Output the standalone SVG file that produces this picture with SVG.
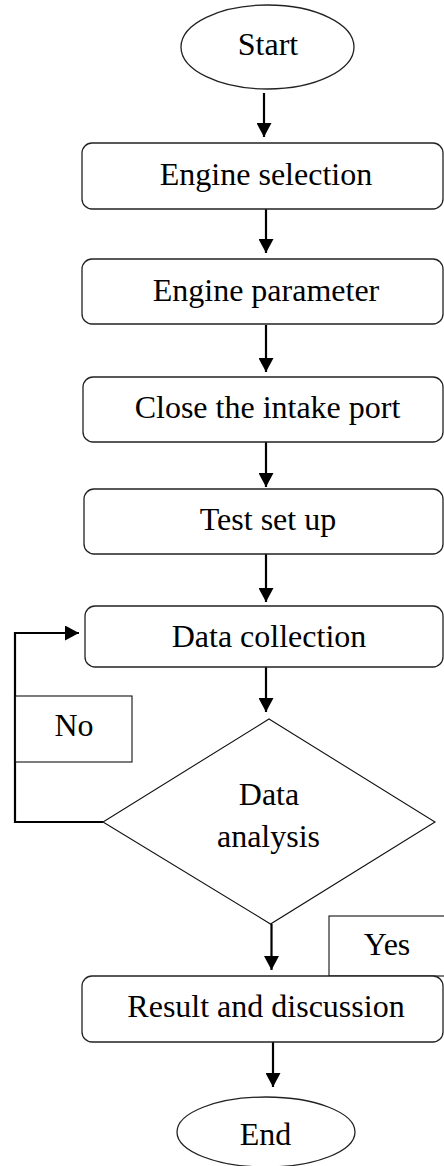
<svg xmlns="http://www.w3.org/2000/svg" width="444" height="1166" viewBox="0 0 444 1166">
  <style>
    .shape { fill: #fff; stroke: #222; stroke-width: 1.3; }
    .thin { fill: #fff; stroke: #111; stroke-width: 1.1; }
    .label { font-family: "Liberation Serif", "Times New Roman", serif; font-size: 32px; fill: #000; text-anchor: middle; }
    .flow { fill: none; stroke: #000; stroke-width: 2.2; }
  </style>
  <defs>
    <marker id="head" viewBox="0 0 14 15" refX="14" refY="7.5" markerWidth="14" markerHeight="15" markerUnits="userSpaceOnUse" orient="auto">
      <path d="M0,0 L14,7.5 L0,15 Z" fill="#000"/>
    </marker>
  </defs>

  <!-- connectors -->
  <g id="connectors">
    <line class="flow" x1="264" y1="93" x2="264" y2="137" marker-end="url(#head)"/>
    <line class="flow" x1="266" y1="209" x2="266" y2="253" marker-end="url(#head)"/>
    <line class="flow" x1="266" y1="325" x2="266" y2="372" marker-end="url(#head)"/>
    <line class="flow" x1="266" y1="442" x2="266" y2="487" marker-end="url(#head)"/>
    <line class="flow" x1="266" y1="554" x2="266" y2="602" marker-end="url(#head)"/>
    <line class="flow" x1="266" y1="667" x2="266" y2="712" marker-end="url(#head)"/>
    <line class="flow" x1="271.5" y1="924" x2="271.5" y2="970" marker-end="url(#head)"/>
    <line class="flow" x1="273" y1="1042" x2="273" y2="1087" marker-end="url(#head)"/>
    <!-- "No" loop back to data collection -->
    <polyline class="flow" points="103,822 15,822 15,633 79,633" marker-end="url(#head)"/>
  </g>

  <g id="start">
    <ellipse class="shape" cx="267.5" cy="47" rx="86.5" ry="42"/>
    <text class="label" x="268" y="55">Start</text>
  </g>

  <g id="engine-selection">
    <rect class="shape" x="82" y="143" width="361" height="66" rx="10"/>
    <text class="label" x="266" y="185">Engine selection</text>
  </g>

  <g id="engine-parameter">
    <rect class="shape" x="82" y="259" width="361" height="65" rx="10"/>
    <text class="label" x="266" y="301">Engine parameter</text>
  </g>

  <g id="close-intake">
    <rect class="shape" x="83" y="377" width="360" height="65" rx="10"/>
    <text class="label" x="267.5" y="418">Close the intake port</text>
  </g>

  <g id="test-setup">
    <rect class="shape" x="84" y="489" width="359" height="65" rx="10"/>
    <text class="label" x="268" y="530">Test set up</text>
  </g>

  <g id="data-collection">
    <rect class="shape" x="85" y="606" width="358" height="61" rx="10"/>
    <text class="label" x="269" y="647">Data collection</text>
  </g>

  <g id="no-label">
    <rect class="thin" x="15.5" y="696" width="116.5" height="66"/>
    <text class="label" x="74" y="736">No</text>
  </g>

  <g id="data-analysis">
    <polygon class="thin" points="269,719 435,822 270.5,924 103,822"/>
    <text class="label" x="269" y="805">Data</text>
    <text class="label" x="268.5" y="847">analysis</text>
  </g>

  <g id="yes-label">
    <rect class="thin" x="329" y="916" width="116" height="60"/>
    <text class="label" x="387" y="955">Yes</text>
  </g>

  <g id="result">
    <rect class="shape" x="82" y="976" width="361" height="66" rx="10"/>
    <text class="label" x="266" y="1017">Result and discussion</text>
  </g>

  <g id="end">
    <ellipse class="shape" cx="266" cy="1132" rx="89" ry="35"/>
    <text class="label" x="265.5" y="1145">End</text>
  </g>
</svg>
